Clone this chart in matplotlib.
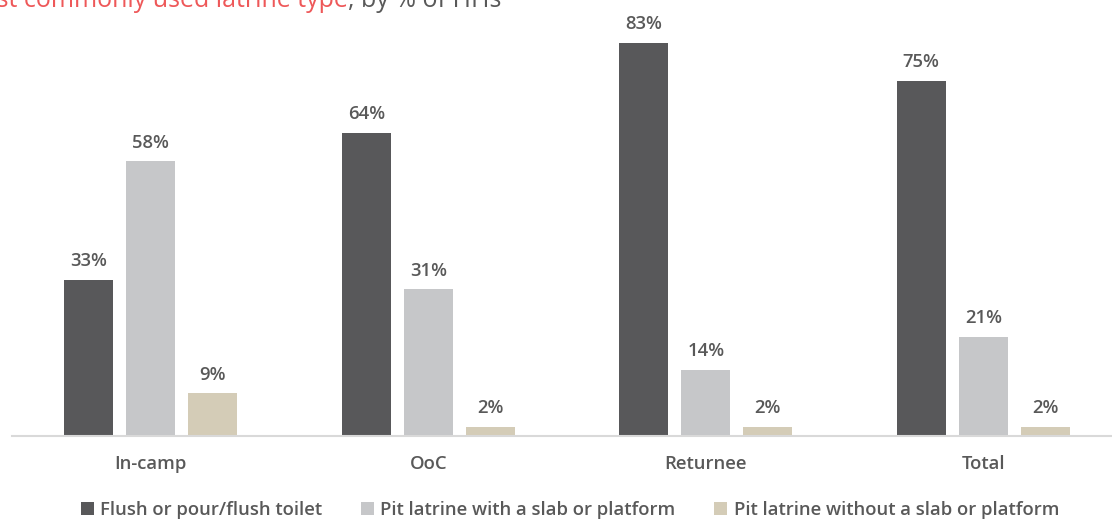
import numpy as np
import matplotlib.pyplot as plt
from matplotlib.patches import Patch

plt.rcParams['font.family'] = ['Open Sans', 'DejaVu Sans']

# data
groups = ['In-camp', 'OoC', 'Returnee', 'Total']
series = ['Flush or pour/flush toilet',
          'Pit latrine with a slab or platform',
          'Pit latrine without a slab or platform']
flush = [33, 64, 83, 75]
pit_slab = [58, 31, 14, 21]
pit_no_slab = [9, 2, 2, 2]
values = [flush, pit_slab, pit_no_slab]

colors = ['#58585A', '#C6C7C9', '#D4CCB7']
text_grey = '#595959'
title_red = '#EE5859'
fs = 13.3
fw = 'semibold'

fig = plt.figure(figsize=(11.12, 5.19), dpi=100)
ax = fig.add_axes([12 / 1112, 83 / 519, 1110 / 1112, 426 / 519])

x = np.arange(len(groups))
width = 0.176
step = 0.2235

for i, (vals, col) in enumerate(zip(values, colors)):
    pos = x + (i - 1) * step
    bars = ax.bar(pos, vals, width=width, color=col, zorder=2)
    for b, v in zip(bars, vals):
        ax.annotate(f'{v}%', (b.get_x() + b.get_width() / 2, v),
                    xytext=(0, 7), textcoords='offset points',
                    ha='center', va='bottom', fontsize=fs,
                    color=text_grey, fontweight=fw)

ax.set_xlim(-0.5, 3.5)
ax.set_ylim(0, 90)
ax.set_xticks(x)
ax.set_xticklabels(groups, fontsize=fs, color=text_grey, fontweight=fw)
ax.tick_params(axis='x', length=0, pad=14)
ax.set_yticks([])
for s in ['top', 'right', 'left']:
    ax.spines[s].set_visible(False)
ax.spines['bottom'].set_color('#D9D9D9')
ax.spines['bottom'].set_linewidth(1.5)

# legend along the bottom
handles = [Patch(facecolor=c, edgecolor='none') for c in colors]
fig.legend(handles, series, loc='center', ncol=3,
           bbox_to_anchor=(570 / 1112, 1 - 510 / 519), frameon=False,
           prop={'size': fs, 'weight': fw}, labelcolor=text_grey,
           handlelength=0.7, handleheight=0.7, handletextpad=0.35,
           columnspacing=2.1)

# title, partly running off the top-left edge
W, H = fig.bbox.width, fig.bbox.height
renderer = fig.canvas.get_renderer()
probe = fig.text(0, 0, 'Mo', fontsize=18)
mo_w = probe.get_window_extent(renderer).width
probe.remove()
base_y = 1 - 7 / H
t1 = fig.text((-mo_w - 3) / W, base_y, 'Most commonly used latrine type',
              color=title_red, fontsize=18, ha='left', va='baseline')
bb = t1.get_window_extent(renderer)
fig.text(bb.x1 / W, base_y, ', by % of HHs', color=text_grey,
         fontsize=18, ha='left', va='baseline')

fig.savefig('out.png', dpi=100)
